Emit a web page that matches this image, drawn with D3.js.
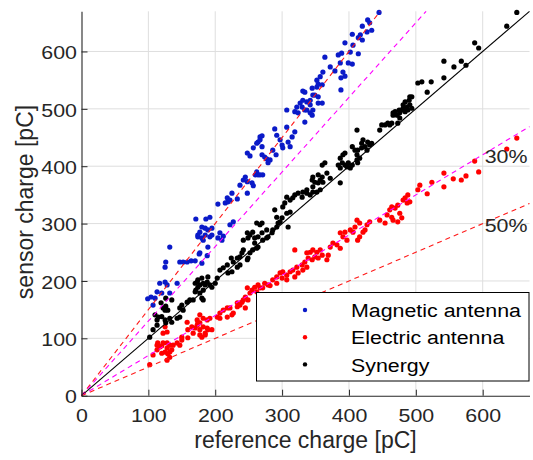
<!DOCTYPE html>
<html><head><meta charset="utf-8">
<script src="https://cdn.jsdelivr.net/npm/d3@7"></script>
<style>body{margin:0;background:#fff}svg{display:block}</style>
</head><body>
<svg id="c" width="533" height="460"></svg>
<script>
const xTicks=[0,100,200,300,400,500,600];
const yTicks=[0,100,200,300,400,500,600];
const seriesNames=["Magnetic antenna","Electric antenna","Synergy"];
const refSlopes=[1.5,1.3,1,0.7,0.5];
const bandLabels=["30%","50%"];

const magnetic=[[99,169],[104,172],[107,158],[110,170],[113,181],[117,196],[120,179],[125,198],[125,224],[126,233],[128,193],[132,179],[132,259],[143,196],[147,233],[152,233],[158,233],[164,235],[170,235],[176,247],[177,249],[180,231],[188,244],[189,259],[171,308],[174,280],[174,277],[177,285],[180,294],[180,275],[182,271],[185,292],[185,280],[186,308],[189,289],[192,311],[192,277],[195,292],[195,280],[204,275],[207,284],[210,271],[212,278],[222,298],[227,303],[204,334],[215,336],[218,345],[219,338],[225,353],[222,341],[233,343],[237,367],[245,381],[242,376],[248,373],[248,353],[255,371],[257,366],[260,385],[262,390],[264,385],[267,385],[271,385],[248,423],[252,418],[257,432],[264,442],[267,451],[267,446],[262,440],[270,453],[270,434],[270,420],[274,416],[277,413],[282,411],[279,406],[286,428],[291,420],[289,465],[292,454],[297,446],[300,437],[301,432],[307,468],[309,442],[312,434],[315,451],[319,460],[307,498],[319,495],[322,503],[324,493],[327,510],[330,503],[331,515],[331,531],[334,529],[334,498],[334,477],[337,498],[337,512],[342,507],[342,515],[342,493],[345,489],[345,536],[346,498],[346,524],[349,524],[352,538],[352,550],[354,521],[354,510],[354,543],[357,556],[360,510],[360,542],[361,564],[364,590],[372,573],[379,566],[384,594],[387,580],[388,554],[388,533],[389,597],[391,564],[394,557],[394,615],[399,580],[402,599],[405,578],[405,630],[406,611],[414,624],[414,596],[417,629],[420,620],[420,644],[427,634],[428,655],[431,650],[434,637],[445,668]];

const electric=[[102,54],[107,71],[113,88],[113,80],[114,92],[117,85],[120,87],[122,92],[122,109],[125,120],[128,111],[128,92],[128,83],[125,76],[129,73],[128,62],[120,74],[132,88],[132,76],[132,67],[135,80],[137,88],[143,92],[147,88],[150,97],[150,102],[158,128],[159,115],[159,101],[167,109],[165,120],[170,118],[173,123],[174,127],[177,127],[177,115],[177,106],[182,120],[188,118],[180,102],[185,109],[189,115],[195,115],[177,141],[182,135],[188,132],[192,135],[173,132],[185,106],[203,137],[207,144],[212,149],[218,153],[222,153],[227,144],[207,135],[218,137],[225,141],[233,162],[233,155],[240,163],[237,158],[245,153],[249,167],[248,188],[255,184],[259,189],[264,193],[267,188],[274,196],[279,193],[319,254],[337,249],[342,250],[346,254],[352,250],[357,254],[349,242],[345,237],[339,240],[354,240],[360,245],[334,233],[330,228],[337,224],[331,219],[322,224],[316,219],[324,214],[312,216],[307,210],[301,216],[297,214],[292,207],[286,202],[300,205],[292,196],[282,192],[271,188],[262,181],[252,179],[245,172],[242,167],[307,202],[319,207],[369,245],[367,237],[372,259],[376,266],[382,263],[387,257],[387,284],[391,277],[397,271],[394,285],[402,289],[406,285],[409,294],[413,271],[416,277],[421,285],[424,289],[427,298],[431,303],[416,301],[412,306],[446,306],[454,301],[457,315],[461,324],[464,311],[466,306],[469,327],[473,303],[476,318],[479,310],[481,341],[487,336],[491,338],[488,350],[484,345],[464,329],[473,332],[506,367],[503,359],[517,352],[524,372],[542,388],[542,364],[556,378],[568,376],[575,383],[588,409],[594,390],[636,430],[651,449]];

const synergy=[[102,102],[107,115],[110,141],[113,132],[113,123],[115,137],[119,162],[120,138],[122,153],[125,149],[126,156],[126,170],[125,132],[126,127],[129,149],[132,135],[135,167],[135,128],[143,135],[147,153],[147,137],[152,149],[150,158],[158,163],[162,167],[167,167],[171,184],[177,193],[182,196],[173,198],[180,205],[188,198],[189,207],[192,193],[200,196],[177,179],[182,167],[203,205],[207,219],[212,223],[218,228],[219,214],[225,216],[227,233],[233,240],[249,240],[170,196],[174,202],[185,193],[195,189],[174,189],[182,184],[180,170],[170,181],[224,240],[237,242],[240,249],[242,254],[233,224],[237,228],[242,271],[248,284],[252,280],[256,285],[259,275],[262,301],[267,298],[259,266],[264,259],[270,284],[277,289],[277,275],[248,237],[252,249],[256,254],[262,257],[249,275],[270,301],[264,277],[271,271],[279,277],[285,284],[286,289],[292,294],[294,301],[297,303],[300,310],[307,318],[312,320],[309,294],[292,311],[289,324],[301,329],[304,336],[312,341],[316,345],[319,350],[324,353],[330,346],[331,355],[337,353],[342,350],[346,355],[352,355],[357,359],[307,346],[337,359],[346,364],[345,376],[349,372],[354,371],[357,376],[360,381],[361,372],[346,381],[354,385],[367,388],[364,406],[360,402],[387,371],[372,379],[384,402],[387,397],[390,406],[394,402],[397,399],[399,406],[402,397],[405,402],[412,411],[413,406],[416,414],[412,420],[387,414],[391,420],[394,423],[412,463],[405,434],[409,428],[413,428],[419,432],[421,446],[419,440],[424,434],[427,428],[428,442],[431,437],[434,440],[446,463],[454,472],[458,475],[461,472],[464,475],[449,472],[466,493],[469,495],[472,489],[476,493],[479,498],[481,501],[484,495],[487,503],[488,498],[491,521],[491,507],[494,501],[473,475],[476,484],[494,521],[490,515],[484,512],[481,507],[475,498],[466,489],[503,545],[509,547],[523,547],[517,529],[542,583],[557,573],[568,583],[575,576],[542,554],[588,615],[594,606],[636,644],[651,668]];

// ---- rendering ----
const SX=1.15;
const FONT='"Liberation Sans", Arial, Helvetica, sans-serif';
const AX='#262626';
const svg=d3.select('#c');
const X0=81.5,X1=529.5,Y0=395.7,Y1=11.3;
const x=d3.scaleLinear().domain([0,670]).range([X0,X1]);
const y=d3.scaleLinear().domain([0,670]).range([Y0,Y1]);
const colors=['#0a1ac8','#ff0000','#000000'];
const data=[magnetic,electric,synergy];

// grid
const grid=svg.append('g').attr('stroke','#dedede').attr('stroke-width',1);
xTicks.filter(t=>t>0).forEach(t=>grid.append('line').attr('x1',x(t)).attr('x2',x(t)).attr('y1',Y0).attr('y2',Y1));
yTicks.filter(t=>t>0).forEach(t=>grid.append('line').attr('y1',y(t)).attr('y2',y(t)).attr('x1',X0).attr('x2',X1));

// points
data.forEach((d,i)=>{
  svg.append('g').attr('fill',colors[i]).selectAll('circle').data(d).join('circle')
    .attr('cx',p=>x(p[0])).attr('cy',p=>y(p[1])).attr('r',2.6);
});

// reference lines
const refStyle={1.5:['#ff1a1a','5,4'],1.3:['#ff00ff','5,4'],1:['#000','none'],0.7:['#ff00ff','5,4'],0.5:['#ff1a1a','5,4']};
refSlopes.forEach(s=>{
  const xe=Math.min(670,670/s);
  const st=refStyle[s];
  svg.append('line').attr('x1',x(0)).attr('y1',y(0)).attr('x2',x(xe)).attr('y2',y(s*xe))
    .attr('stroke',st[0]).attr('stroke-width',1.1).attr('stroke-dasharray',st[1]);
});

// axes
const gx=svg.append('g').attr('transform',`translate(0,${Y0})`)
  .call(d3.axisBottom(x).tickValues(xTicks).tickSizeInner(-6).tickSizeOuter(0));
const gy=svg.append('g').attr('transform',`translate(${X0},0)`)
  .call(d3.axisLeft(y).tickValues(yTicks).tickSizeInner(-6).tickSizeOuter(0));
[gx,gy].forEach(g=>{g.select('.domain').attr('stroke',AX).attr('stroke-width',1.1);
  g.selectAll('.tick line').attr('stroke',AX);
  g.selectAll('.tick text').attr('fill',AX).style('font-family',FONT).style('font-size','18.6px')
   .attr('x',null).attr('y',null).attr('dy',null);});
gx.selectAll('.tick text').attr('text-anchor','middle').attr('transform',`translate(0,26.5) scale(${SX},1)`);
gy.selectAll('.tick text').attr('text-anchor','end').attr('transform',`translate(-4.5,7.2) scale(${SX},1)`);

function txt(s,tx,ty,size,anchor,sx,extra){
  return svg.append('text').attr('transform',`translate(${tx},${ty}) scale(${sx},1)`+(extra||''))
    .attr('text-anchor',anchor).style('font-family',FONT).style('font-size',size+'px').attr('fill',AX).text(s);
}
// axis labels
txt('reference charge [pC]',(X0+X1)/2,448,23,'middle',1);
txt('sensor charge [pC]',33,202,23,'middle',1,' rotate(-90)');

// band labels
txt(bandLabels[0],x(603),y(406),18.6,'start',SX);
txt(bandLabels[1],x(603),y(286),18.6,'start',SX);

// legend
svg.append('rect').attr('x',256.5).attr('y',292.5).attr('width',272.5).attr('height',88.5)
  .attr('fill','#fff').attr('stroke','#000').attr('stroke-width',1);
seriesNames.forEach((n,i)=>{
  const cy=310+i*27.2;
  svg.append('circle').attr('cx',305).attr('cy',cy).attr('r',2.2).attr('fill',colors[i]);
  txt(n,351,cy+7.2,18.6,'start',SX).attr('fill','#000');
});
</script>
</body></html>
